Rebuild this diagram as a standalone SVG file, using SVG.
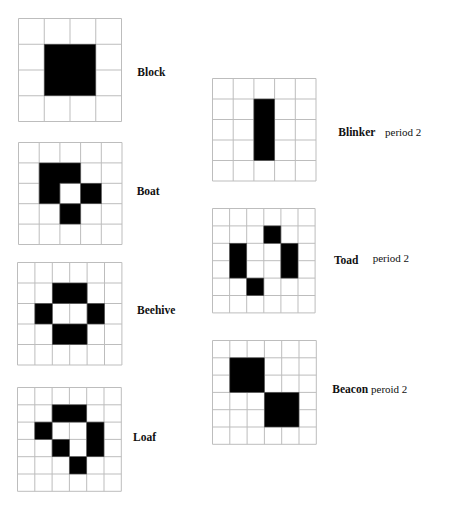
<svg xmlns="http://www.w3.org/2000/svg" width="459" height="512" viewBox="0 0 459 512">
<style>
.grid{fill:none;stroke:#bdbdbd;stroke-width:1}
.on{fill:#000;stroke:#555;stroke-width:0.6}
.name{font-family:"Liberation Serif","Times New Roman",serif;font-weight:bold;font-size:11.5px;fill:#111}
.per{font-family:"Liberation Serif","Times New Roman",serif;font-size:11px;fill:#111}
</style>
<rect width="459" height="512" fill="#fff"/>
<g id="block">
<path class="grid" d="M18.5 18.5V121.5M44.25 18.5V121.5M70 18.5V121.5M95.75 18.5V121.5M121.5 18.5V121.5M18.5 18.5H121.5M18.5 44.25H121.5M18.5 70H121.5M18.5 95.75H121.5M18.5 121.5H121.5"/>
<rect class="on" x="44.25" y="44.25" width="51.5" height="51.5"/>
<text class="name" x="137.3" y="75.5">Block</text>
</g>
<g id="boat">
<path class="grid" d="M18.5 142.5V244.5M39.2 142.5V244.5M59.9 142.5V244.5M80.6 142.5V244.5M101.3 142.5V244.5M122 142.5V244.5M18.5 142.5H122M18.5 162.9H122M18.5 183.3H122M18.5 203.7H122M18.5 224.1H122M18.5 244.5H122"/>
<path class="on" d="M39.2 162.9H80.6V183.3H59.9V203.7H80.6V224.1H59.9V203.7H39.2Z"/>
<rect class="on" x="80.6" y="183.3" width="20.7" height="20.4"/>
<text class="name" x="136.7" y="195">Boat</text>
</g>
<g id="beehive">
<path class="grid" d="M17.5 262.5V365M34.9 262.5V365M52.3 262.5V365M69.7 262.5V365M87.1 262.5V365M104.5 262.5V365M121.9 262.5V365M17.5 262.5H121.9M17.5 283H121.9M17.5 303.5H121.9M17.5 324H121.9M17.5 344.5H121.9M17.5 365H121.9"/>
<rect class="on" x="52.3" y="283" width="34.8" height="20.5"/>
<rect class="on" x="34.9" y="303.5" width="17.4" height="20.5"/>
<rect class="on" x="87.1" y="303.5" width="17.4" height="20.5"/>
<rect class="on" x="52.3" y="324" width="34.8" height="20.5"/>
<text class="name" x="137" y="314">Beehive</text>
</g>
<g id="loaf">
<path class="grid" d="M17.5 387.5V491.3M34.8 387.5V491.3M52.1 387.5V491.3M69.4 387.5V491.3M86.7 387.5V491.3M104 387.5V491.3M121.3 387.5V491.3M17.5 387.5H121.3M17.5 404.8H121.3M17.5 422.1H121.3M17.5 439.4H121.3M17.5 456.7H121.3M17.5 474H121.3M17.5 491.3H121.3"/>
<rect class="on" x="52.1" y="404.8" width="34.6" height="17.3"/>
<rect class="on" x="34.8" y="422.1" width="17.3" height="17.3"/>
<rect class="on" x="86.7" y="422.1" width="17.3" height="34.6"/>
<rect class="on" x="52.1" y="439.4" width="17.3" height="17.3"/>
<rect class="on" x="69.4" y="456.7" width="17.3" height="17.3"/>
<text class="name" x="133" y="441">Loaf</text>
</g>
<g id="blinker">
<path class="grid" d="M212.5 78.5V181M233.2 78.5V181M253.9 78.5V181M274.6 78.5V181M295.3 78.5V181M316 78.5V181M212.5 78.5H316M212.5 99H316M212.5 119.5H316M212.5 140H316M212.5 160.5H316M212.5 181H316"/>
<rect class="on" x="253.9" y="99" width="20.7" height="61.5"/>
<text class="name" x="338.3" y="135.7">Blinker</text>
<text class="per" x="385" y="135.7">period 2</text>
</g>
<g id="toad">
<path class="grid" d="M212.5 208.5V312.9M229.6 208.5V312.9M246.7 208.5V312.9M263.8 208.5V312.9M280.9 208.5V312.9M298 208.5V312.9M315.1 208.5V312.9M212.5 208.5H315.1M212.5 225.9H315.1M212.5 243.3H315.1M212.5 260.7H315.1M212.5 278.1H315.1M212.5 295.5H315.1M212.5 312.9H315.1"/>
<rect class="on" x="263.8" y="225.9" width="17.1" height="17.4"/>
<rect class="on" x="229.6" y="243.3" width="17.1" height="34.8"/>
<rect class="on" x="280.9" y="243.3" width="17.1" height="34.8"/>
<rect class="on" x="246.7" y="278.1" width="17.1" height="17.4"/>
<text class="name" x="334" y="264">Toad</text>
<text class="per" x="372.7" y="261.7">period 2</text>
</g>
<g id="beacon">
<path class="grid" d="M212.5 340.5V444.3M229.8 340.5V444.3M247.1 340.5V444.3M264.4 340.5V444.3M281.7 340.5V444.3M299 340.5V444.3M316.3 340.5V444.3M212.5 340.5H316.3M212.5 357.8H316.3M212.5 375.1H316.3M212.5 392.4H316.3M212.5 409.7H316.3M212.5 427H316.3M212.5 444.3H316.3"/>
<rect class="on" x="229.8" y="357.8" width="34.6" height="34.6"/>
<rect class="on" x="264.4" y="392.4" width="34.6" height="34.6"/>
<text class="name" x="332.3" y="393.3">Beacon</text>
<text class="per" x="371" y="393.3">peroid 2</text>
</g>
<g id="connectors"/>
</svg>
